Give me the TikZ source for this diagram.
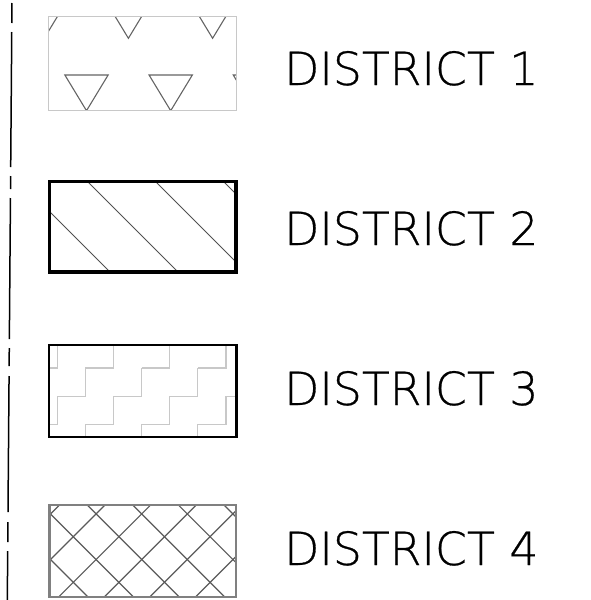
\documentclass[tikz,border=0pt]{standalone}
\usepackage{fontspec}
\IfFontExistsTF{DejaVuSans-ExtraLight.ttf}
  {\newfontfamily\lblfont{DejaVuSans-ExtraLight.ttf}[FakeBold=0.6]}
  {\newfontfamily\lblfont{DejaVu Sans}}
\definecolor{lightbox}{HTML}{C8C8C8}
\definecolor{trigray}{HTML}{646464}
\definecolor{hatchgray}{HTML}{505050}
\definecolor{stairgray}{HTML}{C8C8C8}
\definecolor{box4gray}{HTML}{808080}
\definecolor{crossgray}{HTML}{5A5A5A}
\tikzset{
  lbl/.style={inner sep=0pt, anchor=base west, font=\lblfont\bfseries\fontsize{45.7}{50}\selectfont},
  sideline/.style={line width=1.5pt, black},
  boxone/.style={line width=1.3pt, draw=lightbox},
  tri/.style={line width=1.1pt, draw=trigray, line join=miter},
  boxtwo/.style={line width=3.2pt, draw=black},
  hatch/.style={line width=1pt, draw=hatchgray},
  boxthree/.style={line width=2.2pt, draw=black},
  stair/.style={line width=1.3pt, draw=stairgray},
  boxfour/.style={line width=2.6pt, draw=box4gray},
  cross/.style={line width=1.2pt, draw=crossgray}
}
\begin{document}
\begin{tikzpicture}[x=1pt,y=-1pt]
\useasboundingbox (0,0) rectangle (590,600);
% left dashed border line
\foreach \a/\b in {3/23,32/167,176/189,198/339,348/366,376/512,522/542,551/600}{
  \draw[sideline] ({12-\a/128},\a) -- ({12-\b/128},\b);
}
% ---- Box 1: triangles
\begin{scope}
  \clip (48.5,16.5) rectangle (236.3,110.3);
  \foreach \k in {-1,...,3}{
    \draw[tri] ({44.2+84.2*\k-21.65},2.6) -- ({44.2+84.2*\k+21.65},2.6) -- ({44.2+84.2*\k},38.3) -- cycle;
    \draw[tri] ({86.5+84.2*\k-21.65},75) -- ({86.5+84.2*\k+21.65},75) -- ({86.5+84.2*\k},110.7) -- cycle;
  }
\end{scope}
\draw[boxone] (48.5,16.5) rectangle (236.3,110.3);
% ---- Box 2: diagonal hatch
\begin{scope}
  \clip (49.5,181.5) rectangle (236,272);
  \foreach \c in {-230,-162,-94,-26,42,110}{
    \draw[hatch] ({\c+170},170) -- ({\c+290},290);
  }
\end{scope}
\draw[boxtwo] (49.5,181.5) rectangle (236,272);
% ---- Box 3: stairs
\begin{scope}
  \clip (48.8,345) rectangle (236.5,437);
  \foreach \k in {-4,...,4}{
    \foreach \j in {-5,...,5}{
      \draw[stair] ({57.3+56.2*\k+28.1*\j-28.1},{424.3-28.1*\j}) -- ({57.3+56.2*\k+28.1*\j},{424.3-28.1*\j}) -- ({57.3+56.2*\k+28.1*\j},{424.3-28.1*\j-28.1});
    }
  }
\end{scope}
\draw[boxthree] (48.8,345) rectangle (236.5,437);
% ---- Box 4: crosshatch
\begin{scope}
  \clip (49.5,505) rectangle (235.8,597);
  \foreach \k in {-3,...,6}{
    \draw[cross] ({-463.4+45.6*\k+495},495) -- ({-463.4+45.6*\k+605},605);
    \draw[cross] ({610+45.6*\k-495},495) -- ({610+45.6*\k-605},605);
  }
\end{scope}
\draw[boxfour] (49.5,505) rectangle (235.8,597);
% ---- labels
\node[lbl] (d1) at (284,85) {DISTRICT 1};
\node[lbl] (d2) at (284,245) {DISTRICT 2};
\node[lbl] (d3) at (284,405) {DISTRICT 3};
\node[lbl] (d4) at (284,565) {DISTRICT 4};
\end{tikzpicture}
\end{document}
